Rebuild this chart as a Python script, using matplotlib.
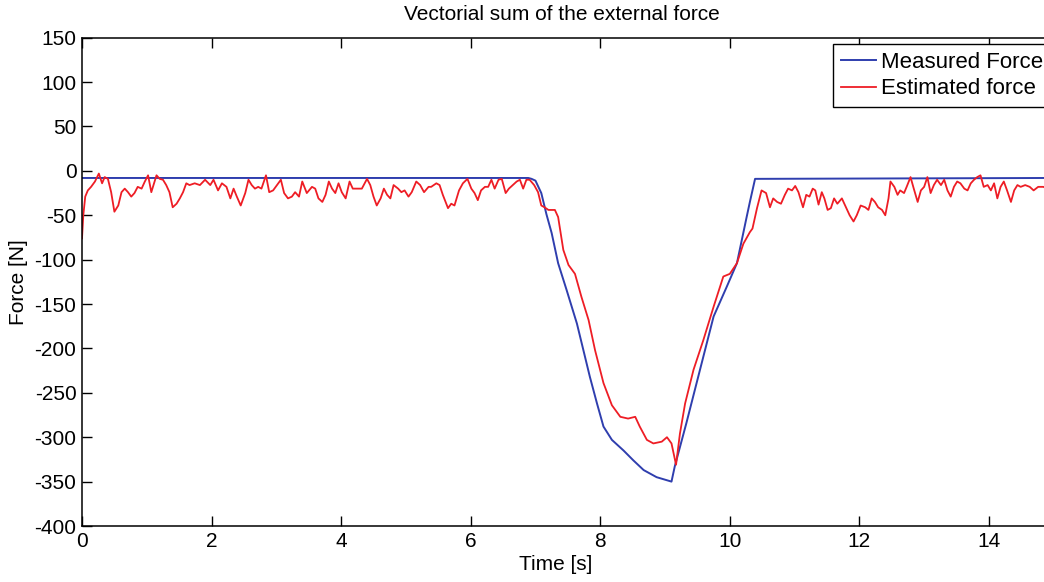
import matplotlib
matplotlib.use("Agg")
import matplotlib.pyplot as plt

plt.rcParams['font.family'] = ['Liberation Sans', 'DejaVu Sans']
plt.rcParams['axes.unicode_minus'] = False

title = "Vectorial sum of the external force"
xlabel = "Time [s]"
ylabel = "Force [N]"
labels = ["Measured Force", "Estimated force"]

# Measured force (blue)
meas_t = [0.00, 6.89, 6.94, 7.00, 7.09, 7.17, 7.25, 7.35, 7.48, 7.56, 7.64, 7.74,
          7.84, 7.95, 8.05, 8.18, 8.36, 8.51, 8.67, 8.87, 9.10, 9.15, 9.33, 9.54,
          9.75, 9.95, 10.11, 10.26, 10.31, 10.39, 14.90]
meas_f = [-8, -8, -9, -11, -25, -49, -70, -104, -134, -153, -172, -202,
          -232, -262, -288, -303, -315, -326, -337, -345, -350, -333, -284, -224,
          -164, -131, -104, -52, -35, -9, -8]

# Estimated force (red)
est_t = [0.00, 0.02, 0.05, 0.09, 0.14, 0.20, 0.26, 0.31, 0.35, 0.40, 0.45, 0.50,
         0.56, 0.61, 0.66, 0.71, 0.76, 0.81, 0.86, 0.92, 0.97, 1.02, 1.07, 1.15,
         1.20, 1.25, 1.30, 1.35, 1.40, 1.46, 1.51, 1.56, 1.61, 1.66, 1.74, 1.82,
         1.90, 1.98, 2.03, 2.10, 2.16, 2.23, 2.29, 2.34, 2.39, 2.45, 2.52, 2.57,
         2.62, 2.67, 2.72, 2.77, 2.84, 2.89, 2.95, 3.01, 3.07, 3.12, 3.18, 3.24,
         3.29, 3.35, 3.40, 3.47, 3.55, 3.60, 3.65, 3.71, 3.76, 3.81, 3.86, 3.91,
         3.96, 4.01, 4.07, 4.13, 4.18, 4.25, 4.32, 4.40, 4.45, 4.50, 4.55, 4.61,
         4.66, 4.71, 4.76, 4.81, 4.88, 4.93, 4.98, 5.04, 5.09, 5.16, 5.22, 5.28,
         5.35, 5.39, 5.47, 5.52, 5.57, 5.65, 5.70, 5.75, 5.82, 5.88, 5.95, 6.01,
         6.06, 6.11, 6.16, 6.22, 6.27, 6.32, 6.37, 6.43, 6.48, 6.54, 6.59, 6.65,
         6.71, 6.76, 6.81, 6.86, 6.91, 6.98, 7.04, 7.09, 7.14, 7.20, 7.30, 7.35,
         7.43, 7.51, 7.61, 7.71, 7.82, 7.92, 8.05, 8.18, 8.31, 8.43, 8.54, 8.61,
         8.72, 8.82, 8.95, 9.03, 9.10, 9.17, 9.23, 9.31, 9.44, 9.59, 9.75, 9.90,
         10.00, 10.11, 10.21, 10.31, 10.35, 10.42, 10.49, 10.56, 10.62, 10.67, 10.73, 10.79,
         10.85, 10.90, 10.96, 11.01, 11.06, 11.13, 11.18, 11.23, 11.28, 11.32, 11.37, 11.42,
         11.46, 11.51, 11.56, 11.61, 11.66, 11.73, 11.78, 11.85, 11.91, 11.96, 12.02, 12.09,
         12.14, 12.19, 12.24, 12.29, 12.35, 12.40, 12.45, 12.48, 12.54, 12.59, 12.63, 12.69,
         12.73, 12.79, 12.84, 12.90, 12.95, 13.00, 13.05, 13.10, 13.15, 13.20, 13.26, 13.31,
         13.36, 13.41, 13.46, 13.51, 13.56, 13.62, 13.67, 13.72, 13.77, 13.82, 13.87, 13.92,
         13.98, 14.03, 14.08, 14.13, 14.18, 14.23, 14.28, 14.34, 14.39, 14.44, 14.49, 14.56,
         14.63, 14.69, 14.76, 14.84, 14.90]
est_f = [-76, -50, -29, -22, -18, -12, -3, -14, -7, -9, -24, -46,
         -39, -24, -20, -24, -29, -25, -18, -20, -12, -5, -24, -5,
         -9, -10, -16, -24, -41, -37, -31, -24, -14, -16, -14, -16,
         -10, -16, -10, -22, -14, -18, -31, -20, -29, -39, -25, -10,
         -16, -20, -18, -20, -5, -24, -22, -16, -10, -25, -31, -29,
         -24, -29, -12, -25, -18, -20, -31, -35, -27, -12, -20, -25,
         -14, -24, -31, -12, -20, -20, -20, -9, -16, -29, -39, -31,
         -20, -27, -31, -16, -20, -24, -22, -29, -24, -12, -16, -24,
         -18, -18, -14, -16, -27, -42, -37, -39, -22, -14, -9, -20,
         -25, -33, -22, -18, -18, -10, -20, -10, -9, -25, -20, -16,
         -12, -10, -20, -10, -10, -16, -24, -39, -41, -44, -44, -52,
         -89, -106, -116, -142, -168, -202, -239, -264, -277, -279, -277, -288,
         -303, -307, -305, -300, -307, -331, -296, -262, -224, -191, -153, -119,
         -116, -104, -82, -69, -65, -42, -22, -25, -41, -31, -35, -37,
         -27, -20, -22, -17, -24, -41, -27, -29, -20, -22, -38, -24,
         -31, -44, -42, -31, -37, -31, -39, -50, -57, -50, -39, -41,
         -44, -31, -35, -41, -44, -50, -31, -12, -18, -27, -22, -25,
         -18, -7, -20, -35, -22, -18, -7, -25, -16, -10, -16, -10,
         -22, -29, -18, -12, -14, -20, -22, -14, -10, -7, -5, -18,
         -16, -22, -14, -31, -18, -12, -22, -35, -22, -16, -18, -16,
         -18, -22, -18, -18, -20]

xticks = [0, 2, 4, 6, 8, 10, 12, 14]
yticks = [150, 100, 50, 0, -50, -100, -150, -200, -250, -300, -350, -400]

W, H = 1044, 582
fig = plt.figure(figsize=(W / 100, H / 100), dpi=100)
ax = fig.add_axes([82 / W, 56 / H, 971.7 / W, 488.3 / H])

blue = '#2f3eae'
red = '#ee1d25'
l1, = ax.plot(meas_t, meas_f, color=blue, lw=1.4, label=labels[0])
l2, = ax.plot(est_t, est_f, color=red, lw=1.3, label=labels[1])

ax.set_xlim(0, 15)
ax.set_ylim(-400, 150)
ax.set_xticks(xticks)
ax.set_yticks(yticks)
ax.tick_params(direction='in', length=7, width=1.0, top=True, right=True,
               labelsize=15, pad=4, colors='black')
for s in ax.spines.values():
    s.set_linewidth(1.1)
    s.set_color('black')

ax.set_xlabel(xlabel, fontsize=15, ha='center', va='center')
ax.xaxis.set_label_coords((555.5 - 82) / 971.7, (526 - 565) / 488.3)
ax.set_ylabel(ylabel, fontsize=15, ha='center', va='center')
ax.yaxis.set_label_coords((18 - 82) / 971.7, 0.5)

fig.text(562 / W, 1 - 15 / H, title, fontsize=15, ha='center', va='center')

leg = ax.legend(handles=[l1, l2], loc='upper left',
                bbox_to_anchor=(833 / W, 1 - 44 / H), bbox_transform=fig.transFigure,
                fontsize=16, frameon=True, fancybox=False, shadow=False,
                framealpha=1.0, edgecolor='black', borderpad=0.35,
                handlelength=1.6, handletextpad=0.2, labelspacing=0.25,
                borderaxespad=0)
leg.get_frame().set_linewidth(1.0)

fig.savefig('out.png', dpi=100)
